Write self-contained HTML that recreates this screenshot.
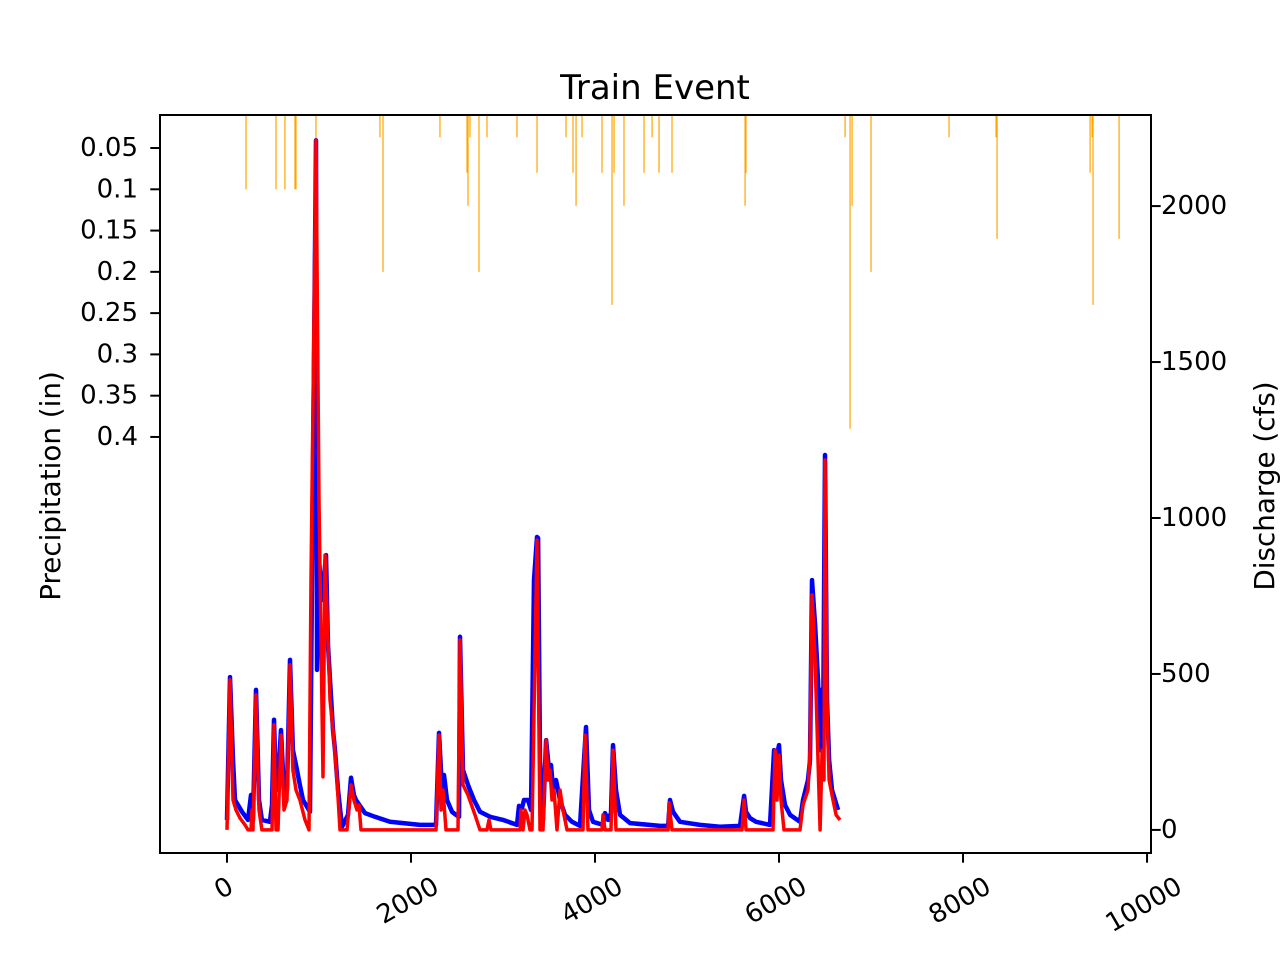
<!DOCTYPE html>
<html><head><meta charset="utf-8"><style>
html,body{margin:0;padding:0;background:#fff;}
svg{display:block;font-family:"DejaVu Sans","Liberation Sans",sans-serif;}
</style></head><body>
<svg id="chart" width="1280" height="960" viewBox="0 0 1280 960" xmlns="http://www.w3.org/2000/svg">
<rect width="1280" height="960" fill="#fff"/>
<text x="655" y="99" font-size="34" text-anchor="middle">Train Event</text>
<text transform="translate(60,486) rotate(-90)" font-size="27.8" text-anchor="middle">Precipitation (in)</text>
<text transform="translate(1274,486) rotate(-90)" font-size="27.8" text-anchor="middle">Discharge (cfs)</text>
<g id="precip"></g>
<g id="lines"></g>
<g id="axes"></g>
<rect x="160" y="115" width="991" height="738" fill="none" stroke="#000" stroke-width="2"/>
</svg>
<script>
// ---- data ----
const xTicks = [0, 2000, 4000, 6000, 8000, 10000];
const qTicks = [0, 500, 1000, 1500, 2000];
const pTicks = [0.05, 0.1, 0.15, 0.2, 0.25, 0.3, 0.35, 0.4];
const pTickLabels = ["0.05","0.1","0.15","0.2","0.25","0.3","0.35","0.4"];
const precipX = [207,533,630,739,750,967,1663,1696,2315,2609,2620,2641,2739,2826,3152,3370,3685,3761,3794,3859,4076,4185,4207,4315,4533,4620,4696,4837,5631,5641,6718,6772,6794,7000,7848,8359,8370,9381,9403,9413,9696];
const precipV = [0.1,0.1,0.1,0.1,0.1,0.04,0.037,0.2,0.037,0.08,0.12,0.037,0.2,0.037,0.037,0.08,0.037,0.08,0.12,0.037,0.08,0.24,0.08,0.12,0.08,0.037,0.08,0.08,0.12,0.08,0.037,0.39,0.12,0.2,0.037,0.037,0.16,0.08,0.037,0.24,0.16];
const blueX = [0,33,65,87,120,163,228,261,283,315,348,380,467,489,511,533,554,587,620,652,685,717,750,793,826,902,924,967,978,1000,1033,1076,1098,1120,1152,1174,1207,1250,1315,1348,1380,1402,1500,1609,1772,2098,2272,2304,2337,2359,2391,2446,2489,2522,2533,2565,2620,2685,2750,2859,3000,3152,3174,3207,3228,3272,3304,3337,3370,3381,3402,3435,3468,3500,3522,3544,3576,3620,3674,3750,3837,3902,3935,3978,4087,4109,4142,4174,4196,4228,4272,4381,4707,4794,4815,4848,4924,5141,5359,5576,5620,5641,5685,5750,5902,5946,5968,6000,6022,6065,6120,6228,6261,6315,6337,6359,6392,6424,6446,6457,6478,6500,6522,6544,6576,6642];
const blueY = [32,490,224,96,80,58,32,112,32,449,96,32,26,80,353,128,160,320,112,128,545,256,208,144,96,58,811,2211,513,865,737,881,593,481,320,256,128,10,48,167,112,96,54,42,26,16,16,311,128,176,96,58,48,42,619,192,144,96,58,42,32,16,77,71,96,96,64,801,939,936,224,32,288,192,208,128,160,96,48,26,13,330,64,26,16,54,32,54,272,128,48,22,13,13,96,58,26,16,10,13,109,58,38,26,16,256,224,272,160,80,48,26,96,160,224,801,657,481,256,449,256,1202,417,224,128,64];
const redX = [0,33,65,98,141,196,228,261,272,283,315,348,380,489,511,533,554,587,620,652,685,717,750,793,848,891,913,967,1000,1044,1065,1098,1120,1163,1196,1228,1304,1348,1380,1413,1435,1457,2272,2304,2326,2348,2380,2511,2533,2565,2620,2696,2750,2826,2848,2870,3185,3196,3217,3239,3261,3294,3315,3348,3370,3402,3435,3468,3489,3511,3533,3554,3587,3620,3652,3696,3870,3891,3924,4076,4087,4109,4174,4196,4228,4794,4804,4837,5598,5620,5641,5935,5957,5978,6000,6022,6054,6228,6261,6315,6337,6359,6392,6424,6446,6468,6489,6500,6522,6544,6587,6620,6663];
const redY = [0,481,96,64,38,16,0,0,64,0,433,64,0,0,337,0,0,304,64,96,529,192,128,96,32,0,801,2211,1058,170,881,609,417,288,160,0,0,144,96,64,80,0,0,304,64,128,0,0,609,144,112,48,0,0,32,0,0,64,0,64,48,0,0,561,929,0,0,288,160,192,96,128,0,128,64,0,0,304,0,0,48,0,0,256,0,0,87,0,0,96,0,0,256,96,240,96,0,0,80,128,256,753,545,224,0,256,160,1186,417,160,96,48,32];

// ---- scales ----
const X0=160, X1=1151, Y0=115, Y1=853;
const xMin=-728, xMax=10043, qMin=-74, qMax=2292, pMin=0.01, pMax=0.904;
const sx = v => X0 + (v - xMin) / (xMax - xMin) * (X1 - X0);
const sq = v => Y1 - (v - qMin) / (qMax - qMin) * (Y1 - Y0);
const sp = v => Y0 + (v - pMin) / (pMax - pMin) * (Y1 - Y0);
const NS = "http://www.w3.org/2000/svg";
function mk(tag, attrs, parent){ const e=document.createElementNS(NS,tag); for(const k in attrs) e.setAttribute(k,attrs[k]); parent.appendChild(e); return e; }

// precipitation bars
const gp = document.getElementById('precip');
precipX.forEach((x,i)=>{
  const r = mk('rect',{x:sx(x)-0.6,y:Y0,width:1.2,height:Math.max(0,sp(precipV[i])-Y0),fill:'#ffa500'},gp);
  
  
});

// lines
const gl = document.getElementById('lines');
function pts(xs,ys){ return xs.map((x,i)=>sx(x).toFixed(1)+','+sq(ys[i]).toFixed(1)).join(' '); }
const bl = mk('polyline',{points:pts(blueX,blueY),fill:'none',stroke:'#0000ff','stroke-width':4.5,'stroke-linejoin':'round'},gl);


const rl = mk('polyline',{points:pts(redX,redY),fill:'none',stroke:'#ff0000','stroke-width':3.5,'stroke-linejoin':'round'},gl);



// axes
const ga = document.getElementById('axes');
const FS = 26;
xTicks.forEach(t=>{
  const x = sx(t);
  mk('line',{x1:x,y1:Y1,x2:x,y2:Y1+9.7,stroke:'#000','stroke-width':2},ga);
  const s = String(t);
  const w = s.length*0.636*FS, h=FS*0.75;
  const bh = w*0.5 + h*0.866;
  const tx = mk('text',{transform:`translate(${x-3},${876+bh/2}) rotate(-30)`,'font-size':FS,'text-anchor':'middle','dominant-baseline':'central'},ga);
  tx.textContent = s;
  
  
});
qTicks.forEach(t=>{
  const y = sq(t);
  mk('line',{x1:X1,y1:y,x2:X1+9.7,y2:y,stroke:'#000','stroke-width':2},ga);
  const tx = mk('text',{x:X1+10,y:y,'font-size':FS,'dominant-baseline':'central'},ga);
  tx.textContent = String(t);
  
  
});
pTicks.forEach((t,i)=>{
  const y = sp(t);
  mk('line',{x1:X0-9.7,y1:y,x2:X0,y2:y,stroke:'#000','stroke-width':2},ga);
  const tx = mk('text',{x:X0-22,y:y,'font-size':FS,'text-anchor':'end','dominant-baseline':'central'},ga);
  tx.textContent = pTickLabels[i];
  
  
});
</script>
</body></html>
